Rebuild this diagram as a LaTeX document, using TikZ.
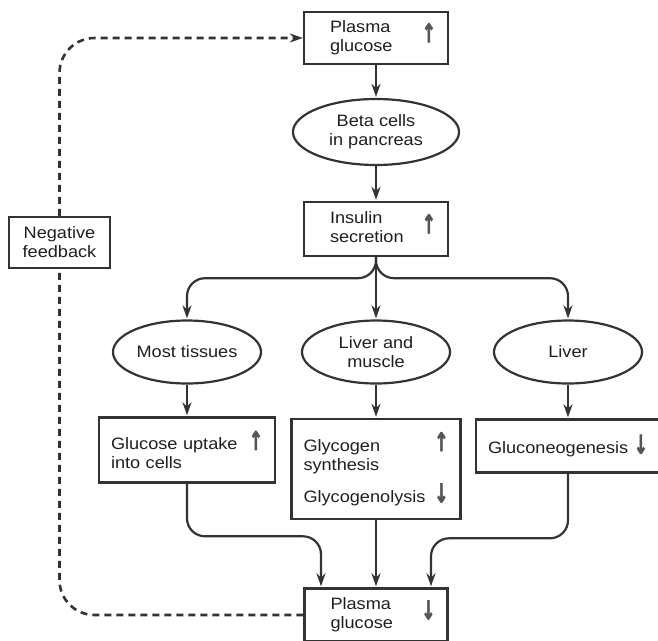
\documentclass[tikz,border=0pt]{standalone}
\usepackage{fontspec}
\setmainfont{Liberation Sans}[FakeStretch=1.1]
\newfontfamily\arrfont{DejaVu Sans}[FakeBold=2.5]
\usepackage{xcolor}
\usepackage{graphicx}
\usepackage{tikz}
\usetikzlibrary{positioning, shapes.geometric, arrows.meta}

\definecolor{ink}{HTML}{333333}
\definecolor{arrgray}{HTML}{555555}
\newcommand{\arrup}{{\arrfont\bfseries\fontsize{20}{20}\selectfont\color{arrgray}\scalebox{0.85}[1.3]{↑}}}
\newcommand{\arrdown}{{\arrfont\bfseries\fontsize{20}{20}\selectfont\color{arrgray}\scalebox{0.85}[1.3]{↓}}}

\begin{document}
\begin{tikzpicture}[x=1pt, y=1pt, shorten >=1pt, on grid,
        font=\fontsize{16.5}{19}\selectfont, text=black!88,
        >={Stealth[length=13pt, width=9pt]},
        box/.style={draw=ink, line width=2.4pt, inner xsep=12pt, text width=#1},
        ell/.style={ellipse, draw=ink, line width=2.2pt, inner sep=0pt, align=center,
                    minimum width=148pt, minimum height=63pt},
        link/.style={draw=ink, line width=2.2pt, ->, rounded corners=18pt},
        feed/.style={draw=ink, line width=2.6pt, dash pattern=on 7pt off 5pt, rounded corners=35pt}]
        \useasboundingbox (0,0) rectangle (658,-640);
        \clip (0,0) rectangle (658,-640);

        \node[box=120pt, minimum height=52pt] (pg1) at (376,-38)
            {\hspace*{14pt}\begin{tabular}{@{}l@{}}Plasma\\glucose\end{tabular}\hfill\arrup};
        \node[ell, minimum width=166pt, minimum height=66pt] (beta) [below=94pt of pg1] {Beta cells\\in pancreas};
        \node[box=120pt, minimum height=54pt] (ins) [below=97pt of beta]
            {\hspace*{14pt}\begin{tabular}{@{}l@{}}Insulin\\secretion\end{tabular}\hfill\arrup};

        \node[ell] (livmus) [below=123pt of ins] {Liver and\\muscle};
        \node[ell] (tis) [left=189pt of livmus] {Most tissues};
        \node[ell] (liv) [right=192pt of livmus] {Liver};

        \node[box=152pt, minimum height=65pt] (upt) [below=98pt of tis]
            {Glucose uptake\hfill\arrup\\into cells};
        \node[box=145pt, minimum height=100pt] (gly) [below=117pt of livmus]
            {Glycogen\hfill\arrup\\synthesis\\[9pt]Glycogenolysis\hfill\arrdown};
        \node[box=160pt, minimum height=53pt] (glu) [below=94pt of liv]
            {Gluconeogenesis\hfill\arrdown};

        \node[box=119pt, minimum height=53pt] (pg2) [below=146pt of gly]
            {\hspace*{14pt}\begin{tabular}{@{}l@{}}Plasma\\glucose\end{tabular}\hfill\arrdown};

        \node[draw=ink, line width=2.4pt, align=center, minimum width=101pt, minimum height=51pt,
              inner sep=2pt] (neg) at (59.5,-242.5) {Negative\\feedback};

        % insulin pathway
        \path[link] (pg1) -- (beta);
        \path[link] (beta) -- (ins);
        \path[link] (ins.south) -- ++(0,-21) -| (tis.north);
        \path[link] (ins) -- (livmus);
        \path[link] (ins.south) -- ++(0,-21) -| (liv.north);
        \path[link] (tis) -- (upt);
        \path[link] (livmus) -- (gly);
        \path[link] (liv) -- (glu);

        % back to plasma glucose
        \path[link] (upt.south) |- ([xshift=-55pt, yshift=51pt]pg2.north) -- ([xshift=-55pt]pg2.north);
        \path[link] (gly) -- (pg2);
        \path[link] (glu.south) |- ([xshift=55pt, yshift=49pt]pg2.north) -- ([xshift=55pt]pg2.north);

        % feedback loop
        \path[feed] (pg2.west) -| (neg.south);
        \path[feed, ->, shorten >=0pt] (neg.north) |- (pg1.west);
\end{tikzpicture}
\end{document}
